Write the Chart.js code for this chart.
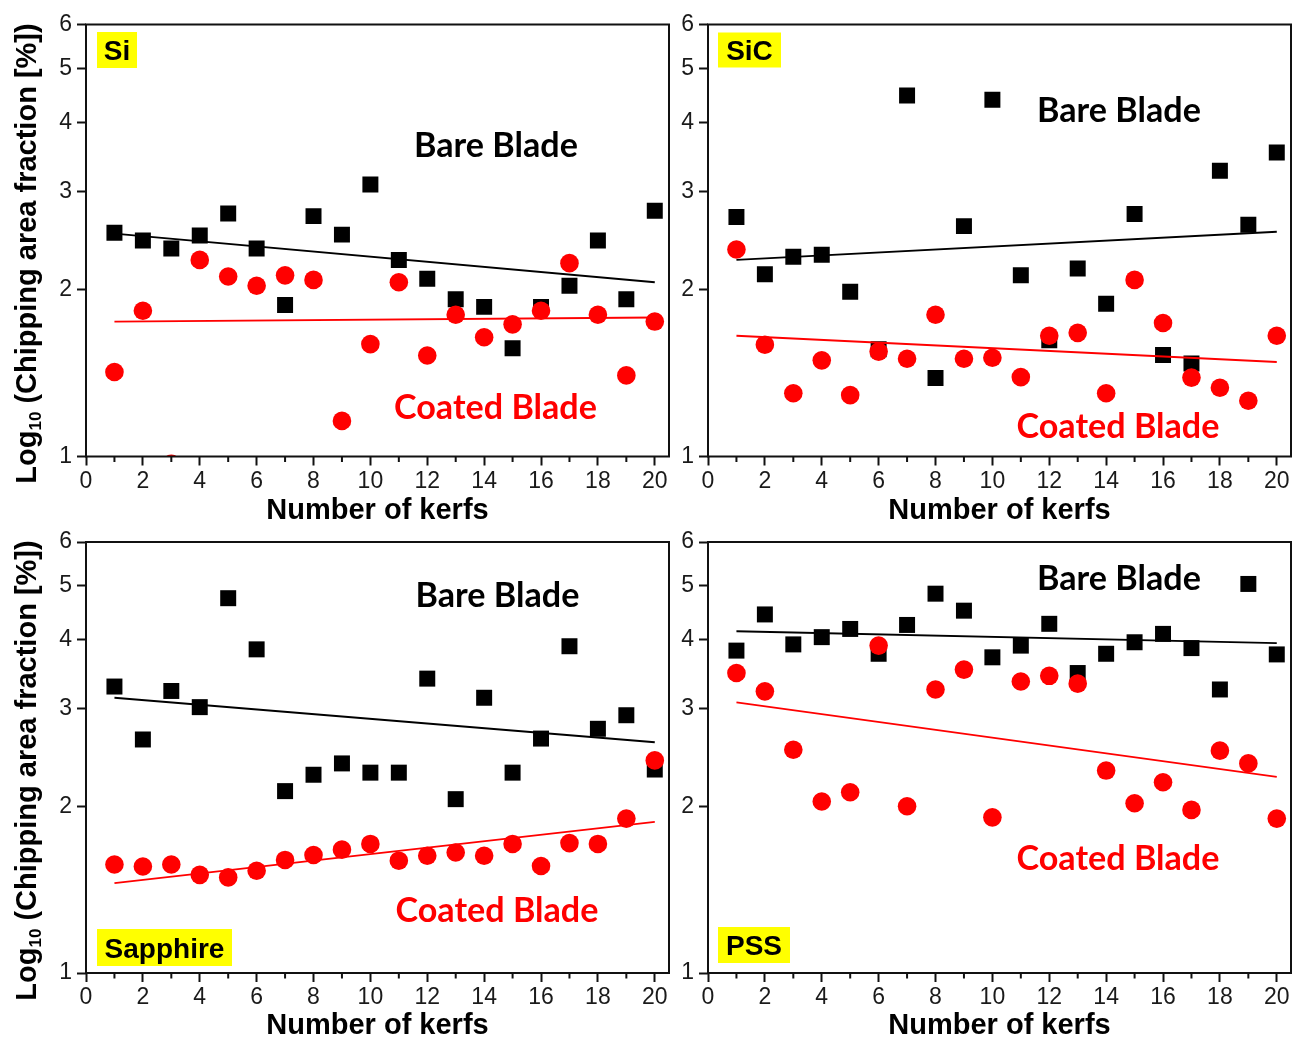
<!DOCTYPE html>
<html><head><meta charset="utf-8">
<script src="https://cdn.jsdelivr.net/npm/chart.js@4.4.1/dist/chart.umd.min.js"></script>
<style>
html,body{margin:0;padding:0;background:#fff;overflow:hidden;width:1293px;height:1038px;}
canvas{position:absolute;}
</style></head><body>
<canvas id="c1"></canvas><canvas id="c2"></canvas><canvas id="c3"></canvas><canvas id="c4"></canvas>
<script>
// ---------- DATA ----------
const kerfs = [1,2,3,4,5,6,7,8,9,10,11,12,13,14,15,16,17,18,19,20];
const fitX = [1, 20];
const xTicks = [0,2,4,6,8,10,12,14,16,18,20];
const xMinor = [1,3,5,7,9,11,13,15,17,19];
const yTicks = [1,2,3,4,5,6];

const siBare    = [2.53,2.45,2.37,2.50,2.74,2.37,1.875,2.71,2.51,3.09,2.26,2.09,1.92,1.86,1.567,1.86,2.03,2.45,1.92,2.77];
const siCoated  = [1.42,1.83,0.97,2.26,2.11,2.03,2.12,2.08,1.159,1.594,2.06,1.52,1.80,1.64,1.73,1.83,2.23,1.80,1.40,1.75];
const siBareFit = [2.52, 2.06];
const siCoatedFit = [1.75, 1.78];

const sicBare    = [2.70,2.13,2.29,2.31,1.98,1.56,4.47,1.385,2.60,4.39,2.12,1.62,2.18,1.885,2.735,1.523,1.47,3.27,2.615,3.53];
const sicCoated  = [2.36,1.59,1.30,1.49,1.29,1.545,1.50,1.80,1.50,1.506,1.39,1.65,1.67,1.30,2.08,1.74,1.387,1.33,1.26,1.65];
const sicBareFit = [2.26, 2.54];
const sicCoatedFit = [1.65, 1.48];

const sapBare    = [3.29,2.64,3.23,3.02,4.75,3.84,2.13,2.28,2.39,2.30,2.30,3.40,2.06,3.14,2.30,2.65,3.89,2.76,2.92,2.33];
const sapCoated  = [1.57,1.557,1.57,1.504,1.488,1.53,1.60,1.633,1.67,1.71,1.595,1.628,1.65,1.628,1.71,1.56,1.716,1.71,1.90,2.42];
const sapBareFit = [3.14, 2.61];
const sapCoatedFit = [1.453, 1.875];

const pssBare    = [3.82,4.44,3.92,4.04,4.18,3.77,4.25,4.84,4.51,3.715,3.90,4.27,3.48,3.77,3.955,4.095,3.86,3.25,5.04,3.76];
const pssCoated  = [3.48,3.225,2.53,2.04,2.12,3.90,2.00,3.25,3.53,1.91,3.36,3.44,3.33,2.32,2.025,2.21,1.97,2.52,2.39,1.90];
const pssBareFit = [4.14, 3.94];
const pssCoatedFit = [3.08, 2.26];

const materials = ['Si', 'SiC', 'Sapphire', 'PSS'];
const bareLabel = 'Bare Blade';
const coatedLabel = 'Coated Blade';
const xTitle = 'Number of kerfs';
const yTitleParts = ['Log', '10', ' (Chipping area fraction [%])'];

// ---------- LAYOUT ----------
const RED = '#ff0000';
const INK = '#111111';
const panels = [
  {id:'c1', name:materials[0], bare:siBare, coated:siCoated, bfit:siBareFit, cfit:siCoatedFit,
   canvas:{x:0,y:0,w:700,h:535}, area:{l:86,t:24.5,r:669,b:456.5}, titleY:511, yTitle:true,
   box:{dx:11,dy:7.5,w:40,h:36}, bareTxt:{dx:410,dy:132.5}, coatTxt:{dx:409.5,dy:394.8}},
  {id:'c2', name:materials[1], bare:sicBare, coated:sicCoated, bfit:sicBareFit, cfit:sicCoatedFit,
   canvas:{x:672,y:0,w:650,h:535}, area:{l:708,t:24.5,r:1291,b:456.5}, titleY:511, yTitle:false,
   box:{dx:10,dy:8,w:63,h:35}, bareTxt:{dx:411,dy:97.8}, coatTxt:{dx:410,dy:413.5}},
  {id:'c3', name:materials[2], bare:sapBare, coated:sapCoated, bfit:sapBareFit, cfit:sapCoatedFit,
   canvas:{x:0,y:515,w:700,h:535}, area:{l:86,t:542,r:669,b:973}, titleY:1026, yTitle:true,
   box:{dx:11,dy:387,w:135,h:37}, bareTxt:{dx:411.5,dy:64.6}, coatTxt:{dx:411,dy:380.4}},
  {id:'c4', name:materials[3], bare:pssBare, coated:pssCoated, bfit:pssBareFit, cfit:pssCoatedFit,
   canvas:{x:672,y:515,w:650,h:535}, area:{l:708,t:542,r:1291,b:973}, titleY:1026, yTitle:false,
   box:{dx:10,dy:385,w:72,h:36}, bareTxt:{dx:411,dy:48.4}, coatTxt:{dx:410,dy:328}}
];

Chart.defaults.font.family = "'Liberation Sans', Arial, sans-serif";
Chart.defaults.color = '#1a1a1a';

const TITLE_SIZE = 29;
const TITLE_LH = 1.2;
const TICK_SIZE = 23;

const decor = {
  id: 'decor',
  afterDatasetsDraw(chart, args, o) {
    const ctx = chart.ctx, a = chart.chartArea;
    ctx.save();
    ctx.strokeStyle = INK; ctx.lineWidth = 2;
    ctx.strokeRect(a.left, a.top, a.right - a.left, a.bottom - a.top);
    const xs = chart.scales.x;
    ctx.beginPath();
    xMinor.forEach(v => {
      const px = xs.getPixelForValue(v);
      ctx.moveTo(px, a.bottom); ctx.lineTo(px, a.bottom + 5.5);
    });
    ctx.stroke();
    ctx.restore();
  },
  afterDraw(chart, args, o) {
    const ctx = chart.ctx, a = chart.chartArea;
    ctx.save();
    const bx = a.left + o.box.dx, by = a.top + o.box.dy;
    ctx.fillStyle = '#ffff00';
    ctx.fillRect(bx, by, o.box.w, o.box.h);
    ctx.fillStyle = '#000';
    ctx.font = "bold 28px 'Liberation Sans', Arial, sans-serif";
    ctx.textAlign = 'center'; ctx.textBaseline = 'alphabetic';
    ctx.fillText(o.name, bx + o.box.w / 2, by + o.box.h / 2 + 10);
    ctx.font = "bold 100px Lato, 'Open Sans', sans-serif";
    const w100 = ctx.measureText(coatedLabel).width;
    const fs = 100 * 203 / w100;
    ctx.font = "bold " + fs.toFixed(2) + "px Lato, 'Open Sans', sans-serif";
    ctx.fillStyle = '#000';
    ctx.fillText(bareLabel, a.left + o.bareTxt.dx, a.top + o.bareTxt.dy);
    ctx.fillStyle = RED;
    ctx.fillText(coatedLabel, a.left + o.coatTxt.dx, a.top + o.coatTxt.dy);
    if (o.yTitle) {
      const cy = (a.top + a.bottom) / 2 + 13;
      const big = "bold " + TITLE_SIZE + "px 'Liberation Sans', Arial, sans-serif";
      const small = "bold 17px 'Liberation Sans', Arial, sans-serif";
      ctx.fillStyle = '#000';
      ctx.translate(36, cy);
      ctx.rotate(-Math.PI / 2);
      ctx.textAlign = 'left';
      const fonts = [big, small, big];
      const shifts = [0, 5, 0];
      const widths = yTitleParts.map((t, i) => { ctx.font = fonts[i]; return ctx.measureText(t).width; });
      let x = -widths.reduce((s, w) => s + w, 0) / 2;
      yTitleParts.forEach((t, i) => {
        ctx.font = fonts[i];
        ctx.fillText(t, x, shifts[i]);
        x += widths[i];
      });
    }
    ctx.restore();
  }
};

function pts(xs, ys) { return xs.map((x, i) => ({x: x, y: ys[i]})); }

panels.forEach(p => {
  const cv = document.getElementById(p.id);
  cv.width = p.canvas.w; cv.height = p.canvas.h;
  cv.style.left = p.canvas.x + 'px'; cv.style.top = p.canvas.y + 'px';
  cv.style.width = p.canvas.w + 'px'; cv.style.height = p.canvas.h + 'px';
  const want = {l: p.area.l - p.canvas.x, t: p.area.t - p.canvas.y, r: p.area.r - p.canvas.x, b: p.area.b - p.canvas.y};
  const fit = {yW: want.l, xH: p.titleY + TITLE_SIZE * TITLE_LH / 2 - p.area.b};
  const pad = {left: 0, top: want.t, right: p.canvas.w - want.r, bottom: p.canvas.h - want.b - fit.xH};
  const chart = new Chart(cv, {
    type: 'scatter',
    data: {
      datasets: [
        {data: pts(fitX, p.bfit), showLine: true, borderColor: '#000', borderWidth: 1.8, pointRadius: 0, order: 0},
        {data: pts(fitX, p.cfit), showLine: true, borderColor: RED, borderWidth: 1.8, pointRadius: 0, order: 0},
        {data: pts(kerfs, p.coated), pointStyle: 'circle', pointRadius: 9.3, backgroundColor: RED, borderWidth: 0, order: 1, clip: 0},
        {data: pts(kerfs, p.bare), pointStyle: 'rect', pointRadius: 11.3, backgroundColor: '#000', borderWidth: 0, order: 2, clip: 0}
      ]
    },
    options: {
      responsive: false, animation: false, events: [],
      layout: {padding: Object.assign({}, pad)},
      plugins: {legend: {display: false}, tooltip: {enabled: false},
        decor: {name: p.name, box: p.box, bareTxt: p.bareTxt, coatTxt: p.coatTxt, yTitle: p.yTitle}},
      scales: {
        x: {
          type: 'linear', min: 0, max: 20.5,
          afterBuildTicks: s => { s.ticks = xTicks.map(v => ({value: v})); },
          afterFit: s => { s.height = fit.xH; },
          grid: {display: true, drawOnChartArea: false, drawTicks: true, tickLength: 9, tickWidth: 2, tickColor: INK},
          border: {display: false},
          ticks: {font: {size: TICK_SIZE}, color: '#1a1a1a', padding: 2, maxRotation: 0, autoSkip: false},
          title: {display: true, text: xTitle, color: '#000', font: {size: TITLE_SIZE, weight: 'bold', lineHeight: TITLE_LH}, padding: 0}
        },
        y: {
          type: 'logarithmic', min: 1, max: 6,
          afterBuildTicks: s => { s.ticks = yTicks.map(v => ({value: v})); },
          afterFit: s => { s.width = fit.yW; },
          grid: {display: true, drawOnChartArea: false, drawTicks: true, tickLength: 9, tickWidth: 2, tickColor: INK},
          border: {display: false},
          ticks: {font: {size: TICK_SIZE}, color: '#1a1a1a', padding: 5, autoSkip: false, callback: v => String(v)}
        }
      }
    },
    plugins: [decor]
  });
  for (let k = 0; k < 3; k++) {
    const ca = chart.chartArea;
    fit.yW += want.l - ca.left;
    pad.top += want.t - ca.top;
    pad.right += ca.right - want.r;
    pad.bottom += ca.bottom - want.b;
    chart.options.layout.padding = Object.assign({}, pad);
    chart.update('none');
  }
});
</script>
</body></html>
